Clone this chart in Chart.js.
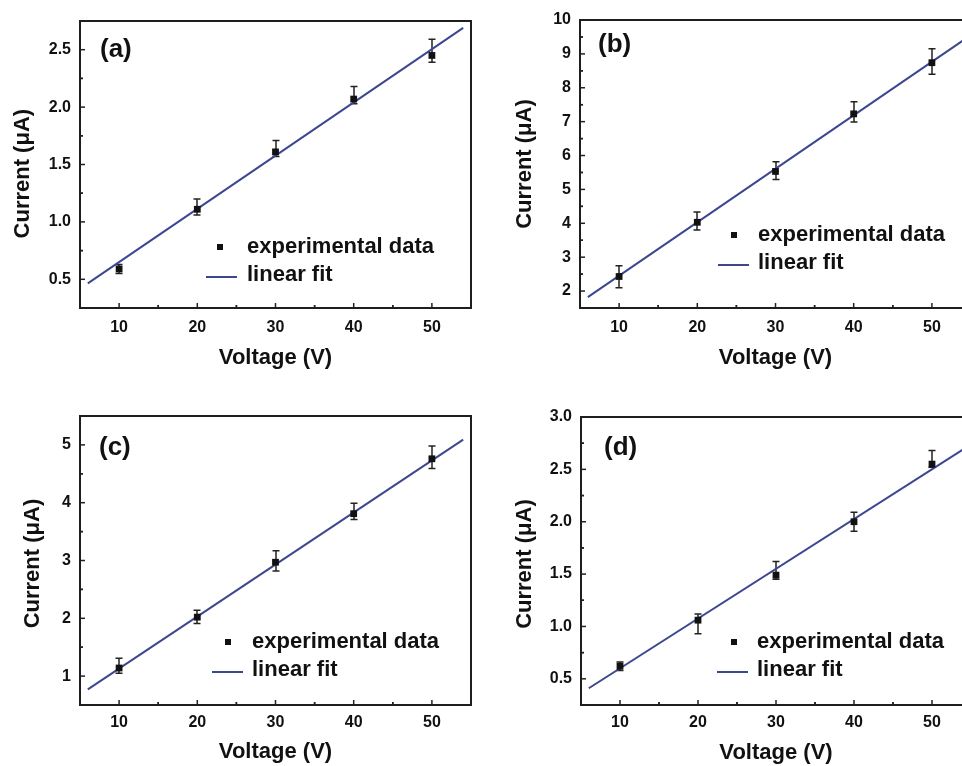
<!DOCTYPE html>
<html>
<head>
<meta charset="utf-8">
<script src="https://cdn.jsdelivr.net/npm/chart.js@4/dist/chart.umd.min.js"></script>
<style>
  html, body { margin: 0; padding: 0; background: #fff; width: 962px; height: 766px; overflow: hidden; }
  #wrap { position: relative; width: 962px; height: 766px; overflow: hidden; }
  canvas { position: absolute; }
</style>
</head>
<body>
<div id="wrap">
  <canvas id="cA" width="480" height="380" style="left:0;top:0"></canvas>
  <canvas id="cB" width="500" height="380" style="left:480px;top:0"></canvas>
  <canvas id="cC" width="480" height="386" style="left:0;top:380px"></canvas>
  <canvas id="cD" width="500" height="386" style="left:480px;top:380px"></canvas>
</div>
<script>
// ---------------- data ----------------
const voltage = [10, 20, 30, 40, 50];
const xTicks = [10, 20, 30, 40, 50];
const xTickLabels = ['10', '20', '30', '40', '50'];
const fitX = [6, 54];

const currentA = [0.59, 1.11, 1.61, 2.07, 2.45];
const errUpA   = [0.04, 0.09, 0.10, 0.11, 0.14];
const errDownA = [0.04, 0.05, 0.04, 0.04, 0.06];
const fitA     = [0.465, 2.69];
const yTicksA  = [0.5, 1.0, 1.5, 2.0, 2.5];
const yLabelsA = ['0.5', '1.0', '1.5', '2.0', '2.5'];

const currentB = [2.43, 4.03, 5.53, 7.23, 8.74];
const errUpB   = [0.32, 0.30, 0.29, 0.36, 0.41];
const errDownB = [0.33, 0.23, 0.24, 0.24, 0.34];
const fitB     = [1.82, 9.40];
const yTicksB  = [2, 3, 4, 5, 6, 7, 8, 9, 10];
const yLabelsB = ['2', '3', '4', '5', '6', '7', '8', '9', '10'];

const currentC = [1.14, 2.02, 2.97, 3.81, 4.76];
const errUpC   = [0.17, 0.12, 0.20, 0.18, 0.22];
const errDownC = [0.09, 0.11, 0.15, 0.10, 0.17];
const fitC     = [0.77, 5.09];
const yTicksC  = [1, 2, 3, 4, 5];
const yLabelsC = ['1', '2', '3', '4', '5'];

const currentD = [0.62, 1.06, 1.49, 2.00, 2.55];
const errUpD   = [0.04, 0.06, 0.13, 0.09, 0.13];
const errDownD = [0.04, 0.13, 0.04, 0.09, 0.03];
const fitD     = [0.41, 2.69];
const yTicksD  = [0.5, 1.0, 1.5, 2.0, 2.5, 3.0];
const yLabelsD = ['0.5', '1.0', '1.5', '2.0', '2.5', '3.0'];

const xTitle = 'Voltage (V)';
const yTitle = 'Current (\u03BCA)';
const legendLabels = ['experimental data', 'linear fit'];

// ---------------- style ----------------
const FONT = "'Liberation Sans', Arial, Helvetica, sans-serif";
const LINE_COLOR = '#3d4790';
const INK = '#111111';
Chart.defaults.font.family = FONT;
Chart.defaults.color = INK;

const panelPlugin = {
  id: 'panelPlugin',
  beforeDatasetsDraw(chart) {
    const p = chart.options.plugins.panelPlugin;
    const ctx = chart.ctx, xs = chart.scales.x, ys = chart.scales.y;
    ctx.save();
    ctx.strokeStyle = '#222';
    ctx.lineWidth = 1.5;
    p.y.forEach((v, i) => {
      const px = Math.round(xs.getPixelForValue(p.x[i]));
      const top = ys.getPixelForValue(v + p.up[i]);
      const bot = ys.getPixelForValue(v - p.down[i]);
      ctx.beginPath();
      ctx.moveTo(px, top); ctx.lineTo(px, bot);
      ctx.moveTo(px - 3.5, top); ctx.lineTo(px + 3.5, top);
      ctx.moveTo(px - 3.5, bot); ctx.lineTo(px + 3.5, bot);
      ctx.stroke();
    });
    ctx.restore();
  },
  afterDraw(chart) {
    const p = chart.options.plugins.panelPlugin;
    const ctx = chart.ctx, a = chart.chartArea;
    const xs = chart.scales.x, ys = chart.scales.y;
    ctx.save();
    // inward tick marks
    ctx.strokeStyle = '#222';
    ctx.lineWidth = 1.5;
    const xStep = xTicks[1] - xTicks[0];
    xTicks.forEach(v => {
      const px = xs.getPixelForValue(v);
      ctx.beginPath(); ctx.moveTo(px, a.bottom); ctx.lineTo(px, a.bottom - 5); ctx.stroke();
      [v - xStep / 2, v + xStep / 2].forEach(m => {
        if (m > xs.min && m < xs.max) {
          const mx = xs.getPixelForValue(m);
          ctx.beginPath(); ctx.moveTo(mx, a.bottom); ctx.lineTo(mx, a.bottom - 3); ctx.stroke();
        }
      });
    });
    const yStep = p.yTicks[1] - p.yTicks[0];
    p.yTicks.forEach(v => {
      const py = ys.getPixelForValue(v);
      ctx.beginPath(); ctx.moveTo(a.left, py); ctx.lineTo(a.left + 5, py); ctx.stroke();
      [v - yStep / 2, v + yStep / 2].forEach(m => {
        if (m > ys.min && m < ys.max) {
          const my = ys.getPixelForValue(m);
          ctx.beginPath(); ctx.moveTo(a.left, my); ctx.lineTo(a.left + 3, my); ctx.stroke();
        }
      });
    });
    // frame
    ctx.strokeStyle = '#1e1e1e';
    ctx.lineWidth = 2;
    ctx.strokeRect(a.left, a.top, a.right - a.left, a.bottom - a.top);
    // panel label
    ctx.fillStyle = INK;
    ctx.font = 'bold 26px ' + FONT;
    ctx.textAlign = 'left';
    ctx.textBaseline = 'middle';
    ctx.fillText(p.label, a.left + p.labelDx, a.top + p.labelDy);
    // legend
    const L = p.legend;
    const r1 = a.bottom - L.row1, r2 = a.bottom - L.row2;
    ctx.fillStyle = '#111';
    ctx.fillRect(a.left + L.markerDx - 3, r1 - 3, 6, 6);
    ctx.strokeStyle = LINE_COLOR;
    ctx.lineWidth = 2;
    ctx.beginPath();
    ctx.moveTo(a.left + L.lineDx0, r2 + 2); ctx.lineTo(a.left + L.lineDx1, r2 + 2);
    ctx.stroke();
    ctx.fillStyle = INK;
    ctx.font = 'bold 22px ' + FONT;
    ctx.fillText(legendLabels[0], a.left + L.textDx, r1);
    ctx.fillText(legendLabels[1], a.left + L.textDx, r2);
    ctx.restore();
  }
};

function makeChart(id, cfg) {
  const pts = voltage.map((v, i) => ({ x: v, y: cfg.y[i] }));
  const fitPts = fitX.map((v, i) => ({ x: v, y: cfg.fit[i] }));
  return new Chart(document.getElementById(id), {
    type: 'scatter',
    data: {
      datasets: [
        {
          label: legendLabels[0],
          data: pts,
          pointStyle: 'rect',
          pointRadius: 4.8,
          backgroundColor: '#111',
          borderColor: '#111',
          borderWidth: 0,
          showLine: false
        },
        {
          label: legendLabels[1],
          type: 'line',
          data: fitPts,
          borderColor: LINE_COLOR,
          borderWidth: 2,
          pointRadius: 0,
          fill: false,
          tension: 0
        }
      ]
    },
    options: {
      responsive: false,
      animation: false,
      devicePixelRatio: 1,
      layout: { padding: { top: cfg.padTop, right: cfg.padRight, left: 0, bottom: 0 } },
      plugins: {
        legend: { display: false },
        tooltip: { enabled: false },
        panelPlugin: {
          x: voltage, y: cfg.y, up: cfg.up, down: cfg.down,
          yTicks: cfg.yTicks, label: cfg.label,
          labelDx: cfg.labelDx, labelDy: cfg.labelDy, legend: cfg.legend
        }
      },
      scales: {
        x: {
          type: 'linear',
          position: 'bottom',
          min: 5, max: 55,
          grid: { display: false, drawTicks: false },
          border: { display: false },
          afterBuildTicks: s => { s.ticks = xTicks.map(v => ({ value: v })); },
          afterFit: s => { s.height = cfg.xAxisH; },
          ticks: {
            autoSkip: false, maxRotation: 0, padding: cfg.xTickPad,
            color: INK,
            font: { size: 16, weight: 'bold' },
            callback: (v, i) => xTickLabels[i]
          },
          title: {
            display: true, text: xTitle, color: INK,
            font: { size: 22, weight: 'bold' },
            padding: { top: 0, bottom: cfg.xTitlePad }
          }
        },
        y: {
          type: 'linear',
          position: 'left',
          min: cfg.yMin, max: cfg.yMax,
          grid: { display: false, drawTicks: false },
          border: { display: false },
          afterBuildTicks: s => { s.ticks = cfg.yTicks.map(v => ({ value: v })); },
          afterFit: s => { s.width = cfg.yAxisW; },
          ticks: {
            autoSkip: false, padding: 9,
            color: INK,
            font: { size: 16, weight: 'bold' },
            callback: (v, i) => cfg.yLabels[i]
          },
          title: {
            display: true, text: cfg.yTitle, color: INK,
            font: { size: 22, weight: 'bold' },
            padding: { top: cfg.yTitlePad, bottom: 0 }
          }
        }
      }
    },
    plugins: [panelPlugin]
  });
}

makeChart('cA', {
  y: currentA, up: errUpA, down: errDownA, fit: fitA,
  yMin: 0.25, yMax: 2.75, yTicks: yTicksA, yLabels: yLabelsA,
  yTitle: yTitle + '   ',
  label: '(a)', labelDx: 20, labelDy: 29,
  padTop: 21, padRight: 9, yAxisW: 80, xAxisH: 72, xTickPad: 10, xTitlePad: 9, yTitlePad: 10,
  legend: { markerDx: 140, textDx: 167, lineDx0: 126, lineDx1: 157, row1: 61, row2: 33 }
});
makeChart('cB', {
  y: currentB, up: errUpB, down: errDownB, fit: fitB,
  yMin: 1.5, yMax: 10, yTicks: yTicksB, yLabels: yLabelsB,
  yTitle: yTitle,
  label: '(b)', labelDx: 18, labelDy: 25,
  padTop: 20, padRight: 9, yAxisW: 100, xAxisH: 72, xTickPad: 10, xTitlePad: 9, yTitlePad: 32,
  legend: { markerDx: 154, textDx: 178, lineDx0: 138, lineDx1: 169, row1: 73, row2: 45 }
});
makeChart('cC', {
  y: currentC, up: errUpC, down: errDownC, fit: fitC,
  yMin: 0.5, yMax: 5.5, yTicks: yTicksC, yLabels: yLabelsC,
  yTitle: yTitle + ' ',
  label: '(c)', labelDx: 19, labelDy: 32,
  padTop: 36, padRight: 9, yAxisW: 80, xAxisH: 61, xTickPad: 8, xTitlePad: 1, yTitlePad: 20,
  legend: { markerDx: 148, textDx: 172, lineDx0: 132, lineDx1: 163, row1: 63, row2: 35 }
});
makeChart('cD', {
  y: currentD, up: errUpD, down: errDownD, fit: fitD,
  yMin: 0.25, yMax: 3.0, yTicks: yTicksD, yLabels: yLabelsD,
  yTitle: yTitle + ' ',
  label: '(d)', labelDx: 23, labelDy: 31,
  padTop: 37, padRight: 9, yAxisW: 101, xAxisH: 61, xTickPad: 8, xTitlePad: 0, yTitlePad: 32,
  legend: { markerDx: 153, textDx: 176, lineDx0: 136, lineDx1: 167, row1: 63, row2: 35 }
});
</script>
</body>
</html>
